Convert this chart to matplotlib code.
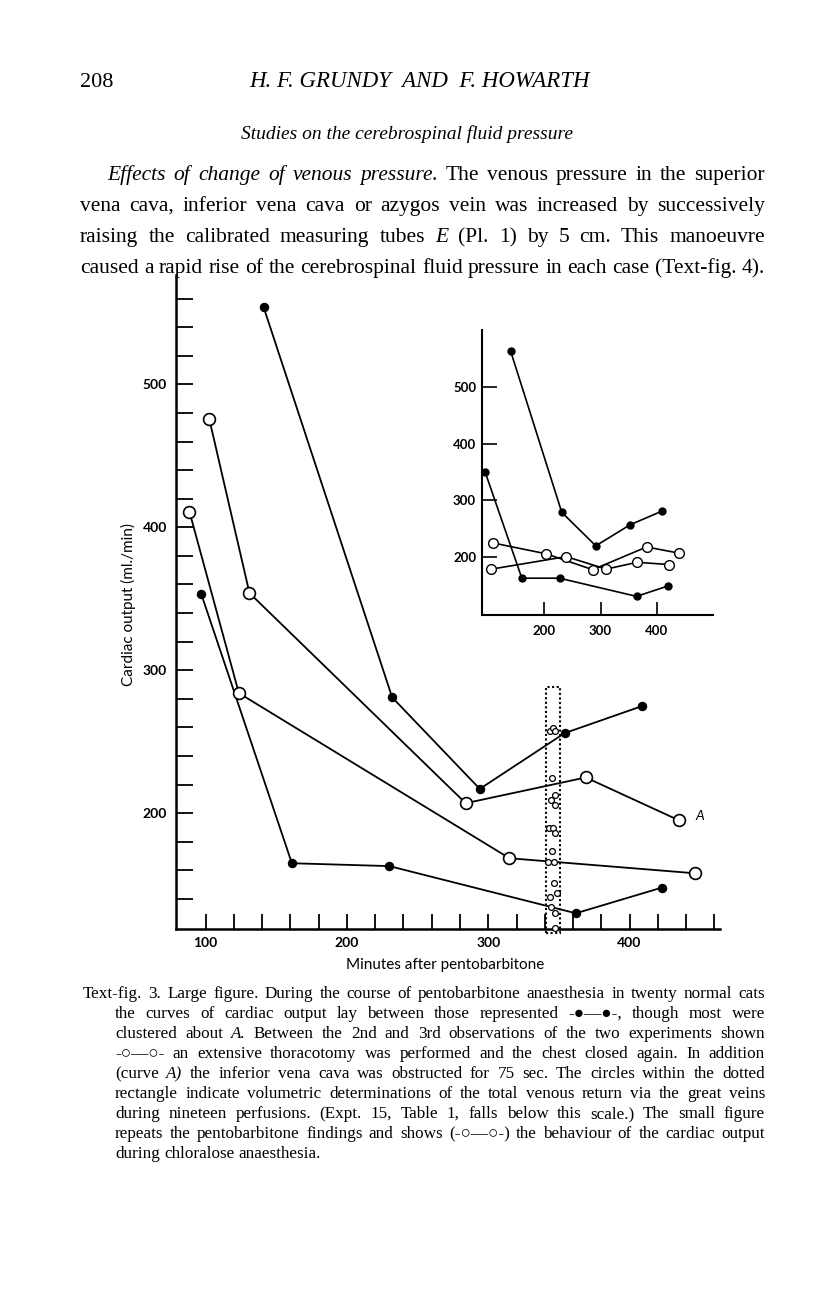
import matplotlib
matplotlib.use("Agg")
import matplotlib.pyplot as plt
from matplotlib.patches import Rectangle

W, H = 816, 1296

# ---- large figure: cardiac output (ml./min) against minutes after pentobarbitone
pento_high_t = [141, 232, 294, 354, 409]
pento_high_co = [554, 281, 217, 256, 275]
pento_low_t = [97, 161, 230, 362, 423]
pento_low_co = [353, 165, 163, 130, 148]
curve_a_t = [102.5, 131, 284, 369, 435]
curve_a_co = [476, 354, 207, 225, 195]
open_b_t = [88.5, 123.5, 315, 446]
open_b_co = [411, 284, 168.5, 158]

# volumetric determinations inside the dotted rectangle (19 perfusions)
perf_t = [344.0, 345.8, 347.2, 345.1, 347.0, 344.2, 347.0, 342.8, 345.8, 347.5,
          345.4, 342.3, 346.5, 346.5, 348.7, 343.5, 344.7, 347.5, 347.0]
perf_co = [257.6, 259.9, 257.6, 224.9, 212.8, 209.3, 205.8, 189.5, 189.5, 186.0,
           173.8, 166.2, 165.7, 151.0, 144.1, 141.7, 134.3, 130.5, 120.0]
rect_t = [341, 351]
rect_co = [116, 288.5]

main_yticks = list(range(140, 561, 20))
main_ylabels = [str(v) if v % 100 == 0 else "" for v in main_yticks]
main_xticks = list(range(100, 461, 20))
main_xlabels = [str(v) if v % 100 == 0 else "" for v in main_xticks]

# ---- small figure
ins_high_t = [140, 231, 291.5, 352.5, 409]
ins_high_co = [563, 279, 220, 257, 281]
ins_low_t = [94.5, 160, 227, 364, 420.5]
ins_low_co = [350.5, 163, 163, 131, 149.5]
chlor1_t = [109, 203, 286, 382, 440]
chlor1_co = [225, 206, 178, 218, 207]
chlor2_t = [106, 239, 310, 365, 422]
chlor2_co = [179, 201, 179, 191, 187]
ins_yticks = [200, 300, 400, 500]
ins_xticks = [200, 300, 400]

SERIF = ["Liberation Serif", "DejaVu Sans"]
SANS = ["Lato", "DejaVu Sans"]

fig = plt.figure(figsize=(W / 100, H / 100), dpi=100)
renderer = fig.canvas.get_renderer()


def fx(x):
    return x / W


def fy(y):
    return 1 - y / H


def put_line(y, x0, x1, line, size, justify=True):
    words = []
    ital = False
    for tok in line.split():
        if tok.startswith("_"):
            ital = True
            tok = tok[1:]
        style = "italic" if ital else "normal"
        if tok.endswith("_"):
            tok = tok[:-1]
            ital = False
        words.append((tok, style))
    arts = [fig.text(0, fy(y), w, fontsize=size, family=SERIF, fontstyle=s,
                     va="baseline", ha="left") for w, s in words]
    widths = [a.get_window_extent(renderer).width for a in arts]
    if justify and len(arts) > 1:
        gap = (x1 - x0 - sum(widths)) / (len(arts) - 1)
    else:
        gap = size * 0.33
    x = x0
    for a, w in zip(arts, widths):
        a.set_x(fx(x))
        x += w + gap


# ---- page text
fig.text(fx(80), fy(87), "208", fontsize=16, family=SERIF, va="baseline")
fig.text(fx(420), fy(87), "H. F. GRUNDY  AND  F. HOWARTH", fontsize=16.5,
         family=SERIF, fontstyle="italic", va="baseline", ha="center")
fig.text(fx(407), fy(139), "Studies on the cerebrospinal fluid pressure",
         fontsize=14, family=SERIF, fontstyle="italic", va="baseline", ha="center")

para = [
    "_Effects of change of venous pressure._ The venous pressure in the superior",
    "vena cava, inferior vena cava or azygos vein was increased by successively",
    "raising the calibrated measuring tubes _E_ (Pl. 1) by 5 cm. This manoeuvre",
    "caused a rapid rise of the cerebrospinal fluid pressure in each case (Text-fig. 4).",
]
for i, ln in enumerate(para):
    put_line(180 + 31 * i, 107 if i == 0 else 80, 765, ln, 15.5)

caption = [
    "Text-fig. 3. Large figure. During the course of pentobarbitone anaesthesia in twenty normal cats",
    "the curves of cardiac output lay between those represented -●—●-, though most were",
    "clustered about _A._ Between the 2nd and 3rd observations of the two experiments shown",
    "-○—○- an extensive thoracotomy was performed and the chest closed again. In addition",
    "(curve _A)_ the inferior vena cava was obstructed for 75 sec. The circles within the dotted",
    "rectangle indicate volumetric determinations of the total venous return via the great veins",
    "during nineteen perfusions. (Expt. 15, Table 1, falls below this scale.) The small figure",
    "repeats the pentobarbitone findings and shows (-○—○-) the behaviour of the cardiac output",
    "during chloralose anaesthesia.",
]
for i, ln in enumerate(caption):
    put_line(998 + 20 * i, 83 if i == 0 else 115, 765, ln, 12.3,
             justify=(i < len(caption) - 1))

# ---- large figure
ax = fig.add_axes([fx(176), fy(929), 544 / W, 654 / H])
ax.set_xlim(79, 464)
ax.set_ylim(119, 576.5)
for s in ["top", "right"]:
    ax.spines[s].set_visible(False)
for s in ["left", "bottom"]:
    ax.spines[s].set_linewidth(1.8)

line_kw = dict(color="black", lw=1.3, clip_on=False, zorder=3)
filled = dict(marker="o", ms=5.8, mfc="black", mec="black")
hollow = dict(marker="o", ms=8.5, mfc="white", mec="black", mew=1.2)
ax.plot(pento_high_t, pento_high_co, **line_kw, **filled)
ax.plot(pento_low_t, pento_low_co, **line_kw, **filled)
ax.plot(curve_a_t, curve_a_co, **line_kw, **hollow)
ax.plot(open_b_t, open_b_co, **line_kw, **hollow)

ax.add_patch(Rectangle((rect_t[0], rect_co[0]), rect_t[1] - rect_t[0],
                       rect_co[1] - rect_co[0], fill=False, lw=1.5,
                       linestyle=(0, (1, 1.2)), clip_on=False, zorder=2))
ax.plot(perf_t, perf_co, ls="none", marker="o", ms=4.2, mfc="white", mec="black",
        mew=0.9, clip_on=False, zorder=4)
ax.text(449.5, 198, "A", fontsize=10, family=SANS, fontstyle="italic",
        ha="center", va="center")

ax.set_yticks(main_yticks, main_ylabels)
ax.set_xticks(main_xticks, main_xlabels)
ax.tick_params(axis="y", direction="in", length=12.2, width=1.3, pad=6.5,
               labelsize=10)
ax.tick_params(axis="x", direction="in", length=10.8, width=1.3, pad=5.5,
               labelsize=10)
for lab in ax.get_xticklabels() + ax.get_yticklabels():
    lab.set_family(SANS)
    lab.set_fontweight("bold")

fig.text(fx(128), fy(605), "Cardiac output (ml./min)", rotation=90, fontsize=11,
         family=SANS, ha="center", va="center")
fig.text(fx(445), fy(965), "Minutes after pentobarbitone", fontsize=11,
         family=SANS, ha="center", va="center")

# ---- small figure
ins = fig.add_axes([fx(481.7), fy(615), 231.3 / W, 285 / H])
ins.patch.set_alpha(0)
ins.set_xlim(88.6, 500)
ins.set_ylim(98.2, 600)
for s in ["top", "right"]:
    ins.spines[s].set_visible(False)
for s in ["left", "bottom"]:
    ins.spines[s].set_linewidth(1.5)

ins_line = dict(color="black", lw=1.2, clip_on=False, zorder=3)
ins_filled = dict(marker="o", ms=5, mfc="black", mec="black")
ins_hollow = dict(marker="o", ms=7, mfc="white", mec="black", mew=1.0)
ins.plot(ins_high_t, ins_high_co, **ins_line, **ins_filled)
ins.plot(ins_low_t, ins_low_co, **ins_line, **ins_filled)
ins.plot(chlor1_t, chlor1_co, **ins_line, **ins_hollow)
ins.plot(chlor2_t, chlor2_co, **ins_line, **ins_hollow)

ins.set_yticks(ins_yticks, [str(v) for v in ins_yticks])
ins.set_xticks(ins_xticks, [str(v) for v in ins_xticks])
ins.tick_params(axis="y", direction="in", length=10.5, width=1.2, pad=4,
                labelsize=9.5)
ins.tick_params(axis="x", direction="in", length=9.5, width=1.2, pad=7,
                labelsize=9.5)
for lab in ins.get_xticklabels() + ins.get_yticklabels():
    lab.set_family(SANS)
    lab.set_fontweight("bold")

fig.savefig("out.png", dpi=100)
